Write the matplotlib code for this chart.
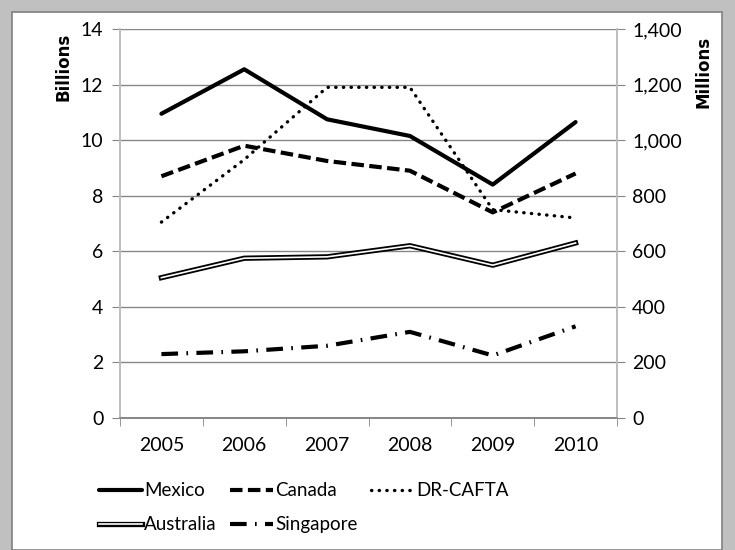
import numpy as np
import matplotlib
matplotlib.use('Agg')
import matplotlib.pyplot as plt
import matplotlib.patheffects as pe
from matplotlib.patches import Rectangle

plt.rcParams['font.family'] = ['Lato', 'DejaVu Sans']

# data
years = ['2005', '2006', '2007', '2008', '2009', '2010']
mexico = [10.95, 12.55, 10.75, 10.15, 8.4, 10.65]          # billions
canada = [8.7, 9.8, 9.25, 8.9, 7.4, 8.8]                   # billions
dr_cafta = [705, 930, 1190, 1190, 750, 720]                # millions
australia = [505, 575, 580, 620, 550, 630]                 # millions
singapore = [230, 240, 260, 310, 225, 330]                 # millions

x = np.arange(len(years))
grid_c = '#868686'

fig = plt.figure(figsize=(7.35, 5.5), dpi=100)
fig.patch.set_facecolor('#c0c0c0')
fig.patches.append(Rectangle((12/735, 0), 710/735, 1 - 12/550, transform=fig.transFigure,
                             facecolor='white', edgecolor='#808080', linewidth=1.2, zorder=-5))

ax = fig.add_axes([120/735, 1 - 418/550, 497/735, 389/550])
ax2 = ax.twinx()
ax.set_facecolor('none')

ax.set_xlim(-0.5, 5.5)
ax.set_ylim(0, 14)
ax2.set_ylim(0, 1400)
ax.set_yticks(range(0, 15, 2))
ax2.set_yticks(range(0, 1401, 200))
ax2.set_yticklabels(['{:,}'.format(v) for v in range(0, 1401, 200)])
ax.set_xticks(x)
ax.set_xticklabels(years)
ax.set_xticks(np.arange(-0.5, 6, 1), minor=True)
ax.tick_params(axis='x', which='major', length=0, pad=14, labelsize=14)
ax.tick_params(axis='x', which='minor', length=6, color=grid_c, direction='out')
ax.tick_params(axis='y', length=6, color=grid_c, labelsize=14, pad=6)
ax2.tick_params(axis='y', length=6, color=grid_c, labelsize=14, pad=5)
ax.grid(axis='y', color=grid_c, linewidth=1)
ax.set_axisbelow(True)
for a in (ax, ax2):
    a.spines['top'].set_visible(False)
    for s in ('left', 'right', 'bottom'):
        a.spines[s].set_color('#bdbdbd' if s != 'bottom' else grid_c)
        a.spines[s].set_linewidth(1.2)

fig.text(63/735, 1 - 67/550, 'Billions', fontsize=12, fontweight='bold', family='DejaVu Sans',
         rotation=90, ha='center', va='center')
fig.text(704/735, 1 - 72/550, 'Millions', fontsize=12, fontweight='bold', family='DejaVu Sans',
         rotation=90, ha='center', va='center')

l_mex, = ax.plot(x, mexico, color='black', lw=3, solid_capstyle='round', label='Mexico')
l_can, = ax.plot(x, canada, color='black', lw=3, dashes=(3, 1.3), label='Canada')
l_dr, = ax2.plot(x, dr_cafta, color='black', lw=2.4, dashes=(0.1, 2.2),
                 dash_capstyle='round', label='DR-CAFTA')
l_aus, = ax2.plot(x, australia, color='white', lw=1.2, label='Australia',
                  path_effects=[pe.Stroke(linewidth=3.8, foreground='black'), pe.Normal()])
l_sin, = ax2.plot(x, singapore, color='black', lw=3, dashes=(4, 2, 0.4, 2), label='Singapore')

handles = [l_mex, l_aus, l_can, l_sin, l_dr]
leg = fig.legend(handles=handles, loc='lower left', bbox_to_anchor=(82/735, 0), ncol=3,
                 frameon=False, fontsize=13.5, handlelength=2.3, handletextpad=0.12,
                 columnspacing=0.7, labelspacing=0.9)

fig.savefig('out.png', dpi=100, facecolor=fig.get_facecolor())
